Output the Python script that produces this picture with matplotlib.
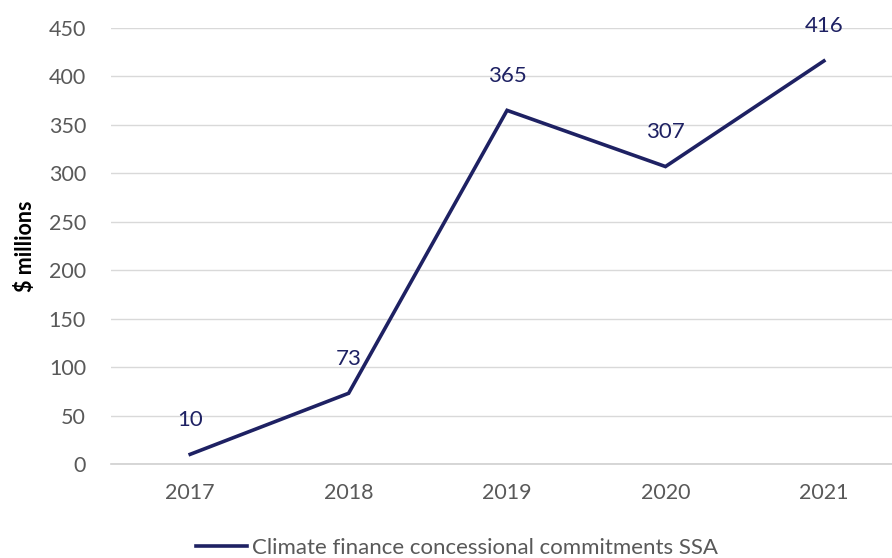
import matplotlib.pyplot as plt

years = ["2017", "2018", "2019", "2020", "2021"]
commitments = [10, 73, 365, 307, 416]
series_name = "Climate finance concessional commitments SSA"
y_ticks = [0, 50, 100, 150, 200, 250, 300, 350, 400, 450]

navy = "#1e2163"
grey_text = "#595959"

plt.rcParams["font.family"] = ["Lato", "DejaVu Sans"]

fig = plt.figure(figsize=(8.92, 5.58), dpi=100)
ax = fig.add_axes([111 / 892, 94 / 558, 781 / 892, 436 / 558])

x = range(len(years))
ax.plot(x, commitments, color=navy, linewidth=2.6, label=series_name,
        solid_joinstyle="miter", clip_on=False)

# value labels above each point
for i, v in enumerate(commitments):
    ax.annotate(str(v), (i, v), xytext=(0, 25), textcoords="offset points",
                ha="center", va="center", fontsize=16, color=navy)

ax.set_xlim(-0.5, 4.43)
ax.set_ylim(0, 450)
ax.set_yticks(y_ticks)
ax.set_xticks(list(x))
ax.set_xticklabels(years)
ax.tick_params(axis="both", length=0, labelsize=15.5, labelcolor=grey_text)
ax.tick_params(axis="y", pad=18)
ax.tick_params(axis="x", pad=14)

ax.grid(axis="y", color="#d9d9d9", linewidth=1)
ax.set_axisbelow(True)
for side in ["top", "right", "left"]:
    ax.spines[side].set_visible(False)
ax.spines["bottom"].set_color("#d0d0d0")
ax.spines["bottom"].set_linewidth(1.2)

ax.set_ylabel("$ millions", fontsize=15.5, fontweight="bold", color="black", labelpad=9)

fig.legend(loc="lower center", bbox_to_anchor=(457 / 892, -0.036), frameon=False,
           fontsize=16, labelcolor=grey_text, handlelength=2.3, handletextpad=0.25)

fig.savefig("out.png", dpi=100)
